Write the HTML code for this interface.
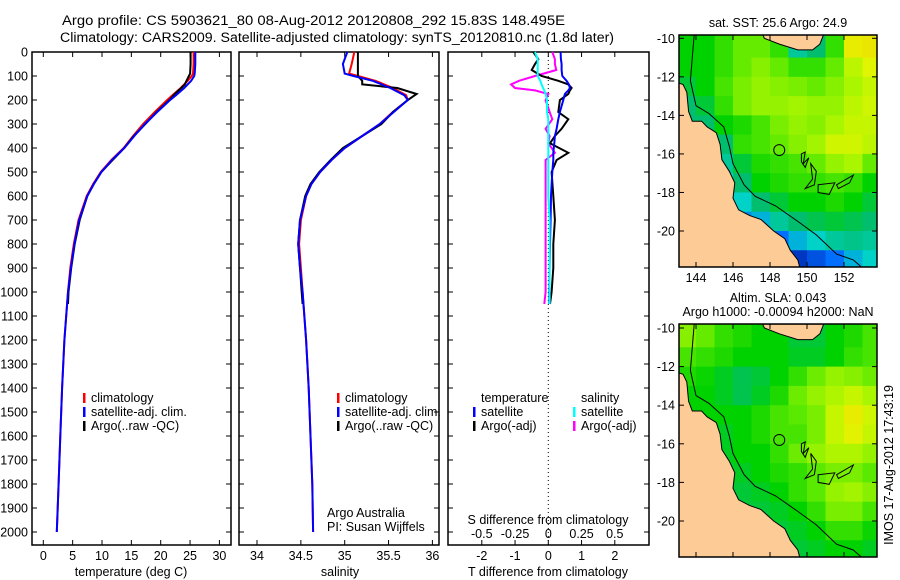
<!DOCTYPE html>
<html><head><meta charset="utf-8"><style>
body{margin:0;background:#fff}
svg{display:block;font-family:"Liberation Sans",sans-serif;font-size:12.5px}
</style></head><body>
<svg id="fig" width="900" height="580" viewBox="0 0 900 580">
<text x="62" y="25" textLength="503" lengthAdjust="spacingAndGlyphs" style="font-size:13.5px">Argo profile: CS 5903621_80 08-Aug-2012 20120808_292 15.83S 148.495E</text>
<text x="60" y="42" textLength="554" lengthAdjust="spacingAndGlyphs" style="font-size:13.5px">Climatology: CARS2009. Satellite-adjusted climatology: synTS_20120810.nc (1.8d later)</text>
<g id="p1"></g>
<g id="p2"></g>
<g id="p3"></g>
<g id="m1"></g>
<g id="m2"></g>
<text x="778" y="27" text-anchor="middle">sat. SST: 25.6 Argo: 24.9</text>
<text x="778" y="302" text-anchor="middle">Altim. SLA: 0.043</text>
<text x="778" y="316" text-anchor="middle">Argo h1000: -0.00094 h2000: NaN</text>
<text transform="translate(893,465) rotate(-90)" text-anchor="middle">IMOS 17-Aug-2012 17:43:19</text>
<text x="327" y="517">Argo Australia</text>
<text x="327" y="531">PI: Susan Wijffels</text>
</svg>
<script>
// ---- data ----
const depths = [0,50,90,100,120,150,180,200,250,300,350,400,450,500,550,600,700,800,900,1000,1200,1400,1600,1800,2000];
const tempClim = [25.6,25.6,25.5,25.3,24.6,23.4,22.0,21.1,19.0,17.0,15.3,13.7,11.6,9.8,8.5,7.4,6.0,5.2,4.6,4.2,3.6,3.2,2.9,2.6,2.3];
const tempSat  = [25.9,25.9,25.8,25.7,25.2,24.0,22.6,21.6,19.4,17.3,15.5,13.8,11.7,9.9,8.6,7.5,6.1,5.3,4.7,4.2,3.6,3.2,2.9,2.6,2.3];
const salClim  = [35.11,35.08,35.05,35.15,35.35,35.55,35.70,35.72,35.55,35.40,35.20,35.00,34.85,34.72,34.62,34.56,34.50,34.48,34.50,34.52,34.56,34.59,34.61,34.63,34.64];
const salSat   = [35.03,34.98,35.0,35.10,35.32,35.52,35.68,35.72,35.56,35.40,35.20,35.00,34.85,34.72,34.62,34.56,34.49,34.47,34.49,34.52,34.56,34.59,34.61,34.63,34.64];
const argoDepths = [0,50,90,100,120,135,150,175,200,250,300,350,400,450,500,550,600,700,800,900,1000,1050];
const argoTemp = [25.1,25.1,25.0,24.8,24.4,24.1,23.5,22.4,21.5,19.3,17.4,15.4,13.8,11.8,9.9,8.6,7.5,6.2,5.35,4.75,4.3,4.2];
const argoSal  = [35.15,35.15,35.15,35.15,35.2,35.2,35.6,35.82,35.72,35.55,35.42,35.2,34.98,34.84,34.71,34.61,34.55,34.49,34.47,34.49,34.51,34.52];
const diffDepths = [0,30,50,75,100,120,135,150,160,175,200,250,280,320,350,380,420,450,500,600,700,800,900,1000,1050];
const dTsat  = [0.37,0.38,0.4,0.4,0.42,0.55,0.62,0.65,0.6,0.5,0.45,0.35,0.3,0.25,0.2,0.18,0.15,0.15,0.12,0.08,0.07,0.05,0.04,0.03,0.03];
const dTargo = [-0.45,-0.3,-0.4,-0.5,-0.2,0.3,0.6,0.7,0.65,0.6,0.35,0.3,0.6,0.4,0.2,0.05,0.6,0.25,0.1,0.15,0.2,0.15,0.15,0.1,0.05];
const dSargo = [0.03,0.05,0.05,0.06,-0.1,-0.22,-0.28,-0.25,-0.1,0.0,-0.02,0.01,0.03,-0.02,0.01,0.0,0.05,-0.02,-0.02,-0.02,-0.02,-0.02,-0.02,-0.02,-0.03];
const dSsat  = [-0.1,-0.08,-0.08,-0.08,-0.08,-0.06,-0.05,-0.04,-0.03,-0.02,-0.01,-0.01,0,0,0,0,0,0,0,0,0.01,0.01,0.01,0.01,0.01];
const depthTicks = [0,100,200,300,400,500,600,700,800,900,1000,1100,1200,1300,1400,1500,1600,1700,1800,1900,2000];
const tempTicks = [0,5,10,15,20,25,30];
const salTicks = [34,34.5,35,35.5,36];
const tdTicks = [-2,-1,0,1,2];
const sdTicks = ["-0.5","-0.25","0","0.25","0.5"];
const lonTicks = [144,146,148,150,152];
const latTicks = [-10,-12,-14,-16,-18,-20];
// map grids: rows lat -10..-22 (1 deg), cols lon 143..154 (1 deg); values 0..1 on colour scale
const sstGrid = [
[0.55,0.55,0.6,0.65,0.65,0.6,0.4,0.45,0.6,0.88,0.9],
[0.55,0.55,0.6,0.65,0.7,0.65,0.6,0.6,0.65,0.78,0.85],
[0.5,0.55,0.62,0.68,0.72,0.7,0.68,0.65,0.7,0.75,0.8],
[0.45,0.5,0.6,0.68,0.72,0.72,0.74,0.72,0.72,0.78,0.82],
[0.45,0.45,0.55,0.58,0.62,0.68,0.72,0.7,0.75,0.8,0.8],
[0.4,0.4,0.45,0.6,0.62,0.65,0.7,0.74,0.82,0.82,0.78],
[0.4,0.4,0.4,0.5,0.58,0.6,0.62,0.65,0.72,0.75,0.65],
[0.4,0.4,0.35,0.45,0.55,0.58,0.6,0.6,0.62,0.6,0.55],
[0.4,0.4,0.3,0.35,0.45,0.5,0.55,0.55,0.58,0.55,0.5],
[0.4,0.4,0.2,0.25,0.3,0.4,0.45,0.48,0.5,0.48,0.45],
[0.4,0.4,0.2,0.15,0.1,0.2,0.3,0.35,0.4,0.42,0.4],
[0.4,0.4,0.2,0.1,0.05,0.05,0.1,0.15,0.2,0.3,0.35]];
const slaGrid = [
[0.7,0.65,0.6,0.58,0.55,0.55,0.5,0.5,0.55,0.58,0.62],
[0.62,0.6,0.58,0.55,0.55,0.55,0.52,0.52,0.55,0.6,0.62],
[0.58,0.56,0.52,0.48,0.5,0.55,0.6,0.66,0.72,0.7,0.66],
[0.55,0.55,0.52,0.48,0.52,0.58,0.66,0.72,0.76,0.8,0.75],
[0.55,0.55,0.55,0.55,0.58,0.62,0.64,0.68,0.8,0.88,0.82],
[0.55,0.52,0.52,0.55,0.58,0.62,0.62,0.68,0.8,0.86,0.8],
[0.5,0.5,0.52,0.55,0.55,0.6,0.66,0.72,0.76,0.76,0.72],
[0.5,0.5,0.5,0.52,0.55,0.58,0.6,0.64,0.68,0.68,0.64],
[0.5,0.5,0.5,0.5,0.52,0.55,0.6,0.64,0.72,0.74,0.7],
[0.5,0.5,0.5,0.5,0.5,0.52,0.55,0.6,0.68,0.68,0.62],
[0.5,0.5,0.5,0.5,0.5,0.5,0.52,0.55,0.6,0.6,0.56],
[0.5,0.5,0.5,0.5,0.5,0.5,0.5,0.52,0.55,0.55,0.52]];
const coast = [[143.0,-12.3],[143.3,-12.4],[143.5,-12.8],[143.6,-13.8],[143.8,-14.3],[144.3,-14.3],[144.6,-14.6],[145.1,-14.9],[145.3,-15.5],[145.4,-16.3],[145.8,-16.9],[146.1,-17.5],[146.0,-18.3],[146.3,-18.9],[146.9,-19.2],[147.5,-19.4],[148.2,-20.0],[148.8,-20.4],[149.1,-21.0],[149.5,-21.5],[149.7,-22.2],[143.0,-22.2]];
const png = [[147.6,-9.8],[147.7,-10.0],[148.5,-10.3],[149.5,-10.6],[150.3,-10.6],[150.7,-10.3],[150.9,-9.8]];
const shelf = [[143.9,-9.8],[143.8,-11],[143.7,-12.2],[144.0,-13.5],[144.7,-13.9],[145.5,-14.6],[145.8,-15.6],[146.0,-16.5],[146.6,-17.6],[147.2,-18.2],[148.3,-18.7],[149.5,-19.5],[150.5,-20.2],[151.6,-21.2],[152.5,-21.5],[153.1,-22]];
const reefs = [[[149.7,-16.0],[149.9,-15.9],[149.8,-16.5],[150.1,-16.2],[149.9,-16.7],[149.7,-16.4]],[[150.2,-16.5],[150.3,-17.3],[149.9,-17.8],[150.4,-17.6],[150.5,-16.9]],[[150.6,-17.6],[151.5,-17.5],[151.2,-18.1],[150.6,-18.0]],[[151.6,-17.6],[152.5,-17.1],[152.3,-17.5],[151.7,-17.8]]];
const floatPos = [148.5,-15.8];

const NS="http://www.w3.org/2000/svg";
function el(p,t,a){const e=document.createElementNS(NS,t);for(const k in a)e.setAttribute(k,a[k]);p.appendChild(e);return e;}
const Y0=52, yD=d=>Y0+d*0.24, BOT=545;
function line(g,xs,ds,xf,col,w,name){
  const pts=xs.map((v,i)=>xf(v).toFixed(1)+","+yD(ds[i]).toFixed(1)).join(" ");
  const p=el(g,"polyline",{points:pts,fill:"none",stroke:col,"stroke-width":w});
  
  
}
function frame(g,x0,x1,name,yLabels){
  const r=el(g,"rect",{x:x0,y:Y0,width:x1-x0,height:BOT-Y0,fill:"#fff",stroke:"#000","stroke-width":1.5});
  
  
  depthTicks.forEach(d=>{
    el(g,"line",{x1:x0,x2:x0+5,y1:yD(d),y2:yD(d),stroke:"#000"});
    el(g,"line",{x1:x1-5,x2:x1,y1:yD(d),y2:yD(d),stroke:"#000"});
    if(yLabels){const t=el(g,"text",{x:x0-4,y:yD(d)+4.5,"text-anchor":"end"});t.textContent=d;
      
      }
  });
}
function xticks(g,vals,labels,xf,ty){
  vals.forEach((v,i)=>{const x=xf(v);
    el(g,"line",{x1:x,x2:x,y1:BOT,y2:BOT-5,stroke:"#000"});el(g,"line",{x1:x,x2:x,y1:Y0,y2:Y0+5,stroke:"#000"});
    if(ty){const t=el(g,"text",{x:x,y:ty,"text-anchor":"middle"});t.textContent=labels[i];
      
      }});
}
function txt(g,x,y,s,name,anchor){const t=el(g,"text",{x:x,y:y,"text-anchor":anchor||"start"});t.textContent=s;
  
  return t;}
function legend(g,x,y,col,s){el(g,"rect",{x:x,y:y-9,width:2.5,height:10,fill:col});
  const t=txt(g,x+8,y,s,'legend-entry');return t;}

// Panel 1
const p1=document.getElementById("p1"), xT=v=>43.3+v*5.87;
frame(p1,32,231,"temperature-axes",true);
xticks(p1,tempTicks,tempTicks,xT,560);
txt(p1,131,576,"temperature (deg C)","x-axis-title","middle");
line(p1,tempClim,depths,xT,"#f00",2,"temp-climatology-line");
line(p1,argoTemp,argoDepths,xT,"#000",2,"temp-argo-line");
line(p1,tempSat,depths,xT,"#00f",2,"temp-satellite-line");
legend(p1,83,402,"#f00","climatology");legend(p1,83,416,"#00f","satellite-adj. clim.");legend(p1,83,430,"#000","Argo(..raw -QC)");
// Panel 2
const p2=document.getElementById("p2"), xS=v=>257+(v-34)*87.7;
frame(p2,239,439,"salinity-axes",false);
xticks(p2,salTicks,salTicks,xS,560);
txt(p2,340,576,"salinity","x-axis-title","middle");
line(p2,salClim,depths,xS,"#f00",2,"sal-climatology-line");
line(p2,argoSal,argoDepths,xS,"#000",2,"sal-argo-line");
line(p2,salSat,depths,xS,"#00f",2,"sal-satellite-line");
legend(p2,337,402,"#f00","climatology");legend(p2,337,416,"#00f","satellite-adj. clim.");legend(p2,337,430,"#000","Argo(..raw -QC)");
// Panel 3
const p3=document.getElementById("p3"), xD=v=>548.3+v*33.25, xSD=v=>548.3+v*133;
frame(p3,448,649,"difference-axes",false);
el(p3,"line",{x1:548.3,x2:548.3,y1:Y0,y2:BOT,stroke:"#000","stroke-dasharray":"1,3"});
xticks(p3,tdTicks,tdTicks,xD,560);
sdTicks.forEach((s,i)=>txt(p3,xSD(parseFloat(s)),538,s,"s-tick-label","middle"));
txt(p3,548,524,"S difference from climatology","s-axis-title","middle");
txt(p3,548,576,"T difference from climatology","t-axis-title","middle");
line(p3,dSargo,diffDepths,xSD,"#f0f",2,"s-argo-diff-line");
line(p3,dTargo,diffDepths,xD,"#000",2,"t-argo-diff-line");
line(p3,dTsat,diffDepths,xD,"#00f",2,"t-satellite-diff-line");
line(p3,dSsat,diffDepths,xSD,"#0ff",2,"s-satellite-diff-line");
txt(p3,481,402,"temperature","legend-heading");txt(p3,581,402,"salinity","legend-heading");
legend(p3,473,416,"#00f","satellite");legend(p3,473,430,"#000","Argo(-adj)");
legend(p3,573,416,"#0ff","satellite");legend(p3,573,430,"#f0f","Argo(-adj)");

// Maps
const stops=[[0,[0,0,130]],[0.2,[0,110,255]],[0.35,[0,210,200]],[0.45,[0,190,110]],[0.55,[0,210,0]],[0.65,[100,235,0]],[0.75,[170,245,0]],[0.85,[225,245,0]],[1,[255,200,0]]];
function cmap(v){for(let i=1;i<stops.length;i++){if(v<=stops[i][0]){const a=stops[i-1],b=stops[i],f=(v-a[0])/(b[0]-a[0]);
  return "rgb("+a[1].map((c,j)=>Math.round(c+(b[1][j]-c)*f)).join(",")+")";}}return "rgb(255,200,0)";}
function map(id,top,bot,lat10y,lat20y,grid,showX){
  const g=document.getElementById(id);const L=679,R=877;
  const xL=lon=>696+(lon-144)*18.5, yL=lat=>lat10y+(-10-lat)*(lat20y-lat10y)/10;
  const cp=el(g,"clipPath",{id:"c"+id});el(cp,"rect",{x:L,y:top,width:R-L,height:bot-top});
  const inner=el(g,"g",{"clip-path":"url(#c"+id+")"});
  const rh=(lat20y-lat10y)/10;
  grid[0].forEach((v,c)=>el(inner,"rect",{x:xL(143+c),y:top,width:18.6,height:yL(-10)-top+0.5,fill:cmap(v)}));
  grid.forEach((row,r)=>row.forEach((v,c)=>{
    const cell=el(inner,"rect",{x:xL(143+c),y:yL(-10-r),width:18.6,height:rh+0.6,fill:cmap(v)});
    
    
  }));
  const pp=a=>a.map(p=>xL(p[0]).toFixed(1)+","+yL(p[1]).toFixed(1)).join(" ");
  const land=el(inner,"polygon",{points:pp(coast),fill:"#fccb96",stroke:"#000","stroke-width":1});
  
  
  el(inner,"polygon",{points:pp(png),fill:"#fccb96",stroke:"#000","stroke-width":1});
  el(inner,"polyline",{points:pp(shelf),fill:"none",stroke:"#000","stroke-width":1});
  reefs.forEach(r=>el(inner,"polygon",{points:pp(r),fill:"none",stroke:"#000","stroke-width":1}));
  const fl=el(inner,"circle",{cx:xL(floatPos[0]),cy:yL(floatPos[1]),r:5.5,fill:"none",stroke:"#000","stroke-width":1});
  
  
  const fr=el(g,"rect",{x:L,y:top,width:R-L,height:bot-top,fill:"none",stroke:"#000","stroke-width":1.5});
  
  
  lonTicks.forEach(lon=>{const x=xL(lon);el(g,"line",{x1:x,x2:x,y1:bot,y2:bot-5,stroke:"#000"});el(g,"line",{x1:x,x2:x,y1:top,y2:top+5,stroke:"#000"});
    if(showX)txt(g,x,bot+15,String(lon),"lon-tick-label","middle");});
  latTicks.forEach(lat=>{const y=yL(lat);el(g,"line",{x1:L,x2:L+5,y1:y,y2:y,stroke:"#000"});el(g,"line",{x1:R-5,x2:R,y1:y,y2:y,stroke:"#000"});
    txt(g,L-4,y+4.5,String(lat),"lat-tick-label","end");});
}
map("m1",35,267,38.3,231,sstGrid,true);
map("m2",324,557,328,521,slaGrid,false);
</script>
</body></html>
